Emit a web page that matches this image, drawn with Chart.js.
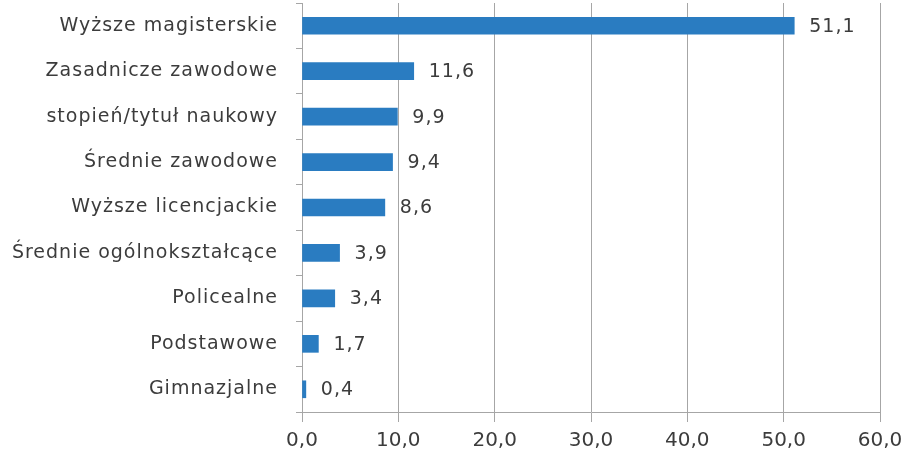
<!DOCTYPE html>
<html><head><meta charset="utf-8">
<script src="https://cdn.jsdelivr.net/npm/chart.js@4.4.1/dist/chart.umd.min.js"></script>
<style>html,body{margin:0;padding:0;background:#fff}#wrap{width:907px;height:456px}</style>
</head><body><div id="wrap"><canvas id="c" width="907" height="456"></canvas></div>
<script>
const categories = ["Wyższe magisterskie","Zasadnicze zawodowe","stopień/tytuł naukowy","Średnie zawodowe","Wyższe licencjackie","Średnie ogólnokształcące","Policealne","Podstawowe","Gimnazjalne"];
const values = [51.1, 11.6, 9.9, 9.4, 8.6, 3.9, 3.4, 1.7, 0.4];
const xTicks = [0,10,20,30,40,50,60];
const fmt = v => v.toFixed(1).replace('.', ',');
const FONT = "'DejaVu Sans', sans-serif";
const labelPlugin = {
  id: 'vals',
  beforeDraw(chart) { chart.ctx.letterSpacing = '0px'; },
  afterDatasetsDraw(chart) {
    const ctx = chart.ctx;
    const meta = chart.getDatasetMeta(0);
    ctx.save();
    ctx.letterSpacing = '1px';
    ctx.font = "19px " + FONT;
    ctx.fillStyle = '#3c3c3c';
    ctx.textBaseline = 'middle';
    ctx.textAlign = 'left';
    meta.data.forEach((el, i) => {
      ctx.fillText(fmt(values[i]), el.x + 15, el.y + 1);
    });
    ctx.restore();
    ctx.letterSpacing = '1px';
  }
};
new Chart(document.getElementById('c'), {
  type: 'bar',
  data: { labels: categories, datasets: [{ data: values, backgroundColor: '#2a7cc1', barThickness: 17 }] },
  options: {
    indexAxis: 'y', responsive: false, animation: false,
    layout: { padding: { left: 0, right: 27, top: 3, bottom: 0 } },
    plugins: { legend: { display: false }, tooltip: { enabled: false } },
    scales: {
      x: {
        min: 0, max: 60,
        afterBuildTicks: s => { s.ticks = xTicks.map(v => ({ value: v })); },
        afterFit: s => { s.height = 44; s.paddingLeft = 0; s.paddingRight = 0; },
        grid: { color: '#a6a6a6', lineWidth: 1, tickLength: 10, drawTicks: true },
        border: { color: '#a6a6a6' },
        ticks: { font: { size: 20, family: FONT }, color: '#3c3c3c', padding: 7, callback: v => fmt(v), maxRotation: 0 }
      },
      y: {
        afterFit: s => { s.width = 302; s.paddingTop = 0; s.paddingBottom = 0; },
        grid: { offset: true, drawOnChartArea: false, color: '#a6a6a6', tickLength: 6 },
        border: { color: '#a6a6a6' },
        ticks: { z: 1, font: { size: 19, family: FONT }, color: '#3c3c3c', padding: 18 }
      }
    }
  },
  plugins: [labelPlugin]
});
</script></body></html>
